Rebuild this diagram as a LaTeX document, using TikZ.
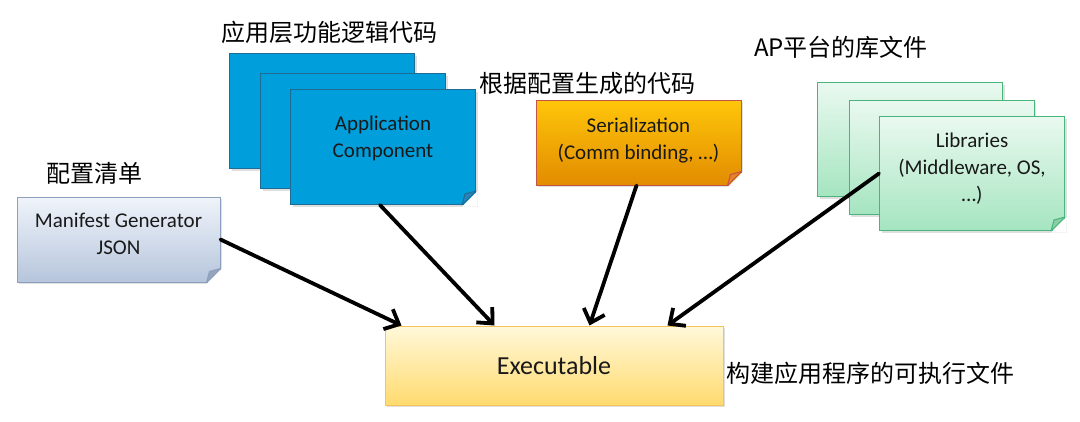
\documentclass[tikz,border=0pt]{standalone}
\usepackage{fontspec}
\setmainfont{Carlito}
\newfontfamily\cjk{Noto Sans CJK SC}
\usetikzlibrary{arrows.meta, positioning, shadows}
\definecolor{appfill}{RGB}{0,158,219}
\definecolor{appedge}{RGB}{30,108,150}
\definecolor{appfold}{RGB}{45,130,185}
\definecolor{mantop}{RGB}{240,244,250}
\definecolor{manbot}{RGB}{182,197,220}
\definecolor{manedge}{RGB}{140,160,190}
\definecolor{manfold}{RGB}{150,165,188}
\definecolor{sertop}{RGB}{255,198,10}
\definecolor{serbot}{RGB}{226,140,0}
\definecolor{seredge}{RGB}{196,84,70}
\definecolor{serfold}{RGB}{232,130,40}
\definecolor{libtop}{RGB}{234,249,240}
\definecolor{libbot}{RGB}{165,229,192}
\definecolor{libedge}{RGB}{72,182,124}
\definecolor{libfold}{RGB}{140,205,165}
\definecolor{exetop}{RGB}{255,248,218}
\definecolor{exebot}{RGB}{255,218,110}
\definecolor{exeedge}{RGB}{244,196,86}
\definecolor{boxtext}{RGB}{25,25,25}

% dog-ear at the lower right corner of a note
\newcommand{\dogear}[3]{%
  \fill[white] ([xshift=-14pt,yshift=-1.5pt]#1.south east) -- ([xshift=1.5pt,yshift=-1.5pt]#1.south east)
    -- ([xshift=1.5pt,yshift=14pt]#1.south east) -- cycle;
  \filldraw[fill=#2, draw=#3, line width=1pt, line join=round] ([xshift=-14pt]#1.south east)
    -- ([xshift=-11pt,yshift=11pt]#1.south east) -- ([yshift=14pt]#1.south east) -- cycle;
}

\begin{document}
\begin{tikzpicture}[x=1pt, y=-1pt]
    \tikzstyle{note}=[draw, line width=1pt, inner sep=0pt, align=center, text=boxtext,
        font=\fontsize{21}{27}\selectfont,
        drop shadow={opacity=0.25, shadow xshift=2pt, shadow yshift=-2pt}]
    \tikzstyle{stackbox}=[note, minimum width=185pt, minimum height=115pt, fill=appfill, draw=appedge]
    \tikzstyle{libbox}=[note, minimum width=185pt, minimum height=114pt, top color=libtop, bottom color=libbot, draw=libedge]
    \tikzstyle{caption}=[anchor=west, inner sep=0pt, font=\cjk\fontsize{24}{28}\selectfont]
    \tikzstyle{link}=[draw, -{Straight Barb[length=12pt, width=22pt]}, line width=3.8pt, line cap=round]

    \useasboundingbox (0,0) rectangle (1080,421);

    % manifest
    \node[note, minimum width=203pt, minimum height=85pt, top color=mantop, bottom color=manbot, draw=manedge]
        (man) at (118.5,239.5) {Manifest Generator\\JSON\\[-15pt]};
    \dogear{man}{manfold}{manedge}
    \node[caption] (mancap) at (46,173) {配置清单};

    % application components
    \node[stackbox] (app1) at (322,111) {};
    \node[stackbox] (app2) at (353,131) {};
    \node[stackbox] (app3) at (383,147) {Application\\Component\\[-7pt]};
    \dogear{app3}{appfold}{appedge}
    \node[caption] (appcap) at (221,32) {应用层功能逻辑代码};

    % serialization
    \node[note, minimum width=205pt, minimum height=85pt, top color=sertop, bottom color=serbot, draw=seredge]
        (ser) at (638.5,142.5) {Serialization\\(Comm binding, …)\\[-19pt]};
    \dogear{ser}{serfold}{seredge}
    \node[caption] (sercap) at (479,83) {根据配置生成的代码};

    % libraries
    \node[libbox] (lib1) at (910,139.5) {};
    \node[libbox] (lib2) at (941.5,157.5) {};
    \node[libbox] (lib3) at (972,173.5) {Libraries\\(Middleware, OS,\\…)\\[-14pt]};
    \dogear{lib3}{libfold}{libedge}
    \node[caption] (libcap) at (754,47) {AP平台的库文件};

    % executable
    \node[note, minimum width=338pt, minimum height=79pt, top color=exetop, bottom color=exebot, draw=exeedge,
        font=\fontsize{26}{30}\selectfont] (exe) at (554,365.5) {Executable};
    \node[caption] (execap) at (726,373) {构建应用程序的可执行文件};

    \path
    (man.east) edge[link] ([xshift=17pt]exe.north west)
    ([xshift=-3pt]app3.south) edge[link] ([xshift=110pt]exe.north west)
    ([xshift=-2pt]ser.south) edge[link] ([xshift=205pt]exe.north west)
    (lib3.west) edge[link] ([xshift=283pt]exe.north west)
    ;
\end{tikzpicture}
\end{document}
